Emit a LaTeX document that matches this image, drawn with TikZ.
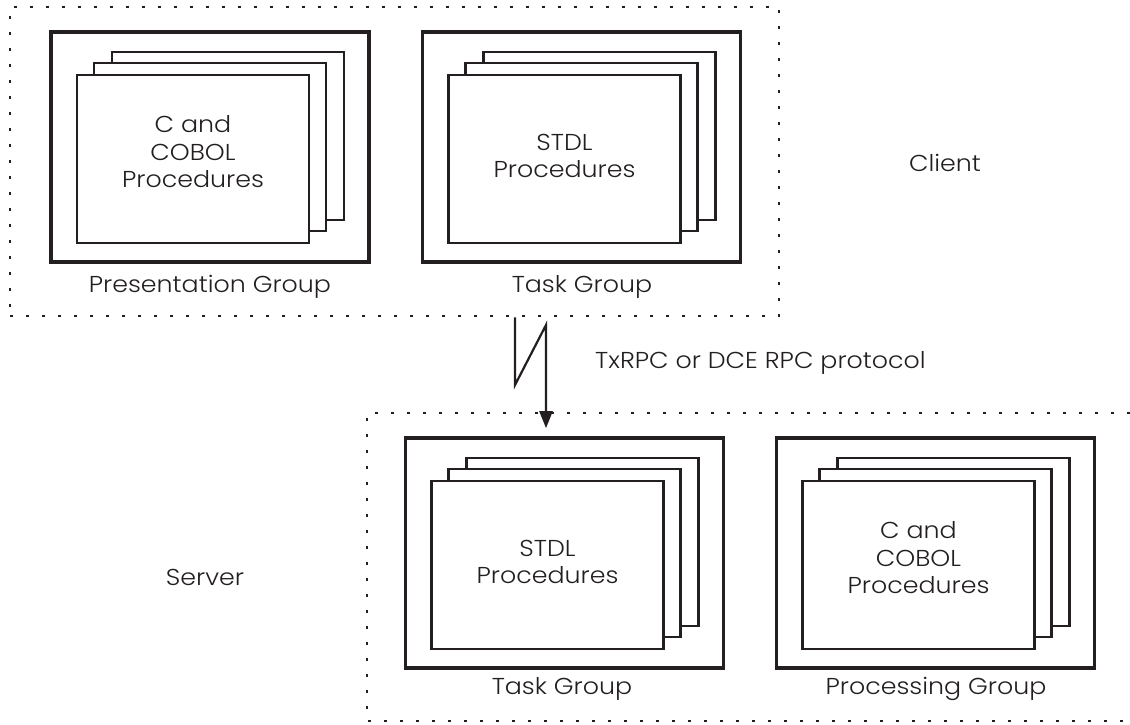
\documentclass[tikz,border=0pt]{standalone}
\usepackage{fontspec}
\setmainfont{Poppins}[UprightFont={* Light}, FakeStretch=1.1]
\usetikzlibrary{arrows.meta}
\definecolor{ink}{HTML}{231F20}
\tikzset{
  dotbox/.style={draw=ink, line width=2.8pt, dash pattern=on 2.8pt off 13.2pt},
  groupbox/.style={draw=ink, line width=3.6pt, fill=white, minimum width=318pt, minimum height=230pt, inner sep=0pt},
  card/.style={draw=ink, line width=2.2pt, fill=white, minimum width=232pt, minimum height=168pt, inner sep=0pt, align=center, text=ink, font=\fontsize{23}{27.5}\selectfont},
  lab/.style={text=ink, font=\fontsize{23}{27.5}\selectfont, inner sep=0pt},
  link/.style={draw=ink, line width=2.2pt, -{Triangle[length=17pt,width=13pt]}, line join=miter}
}
\begin{document}
\begin{tikzpicture}[x=1pt,y=-1pt]
\useasboundingbox (0,0) rectangle (1130,725);
% client region
\node[dotbox, minimum width=769pt, minimum height=309pt, inner sep=0pt] (client) at (394.5,161.5) {};
% server region (open to the right)
\coordinate (srvTR) at (1130,413);
\coordinate (srvTL) at (367,413);
\coordinate (srvBL) at (367,721);
\coordinate (srvBR) at (1130,721);
\draw[dotbox] (srvTR) -- (srvTL) -- (srvBL) -- (srvBR);

% Presentation group
\node[groupbox] (pg) at (210,147) {};
\node[card] (pg3) at (228,136) {};
\node[card] (pg2) at (210,147) {};
\node[card] (pg1) at (193,159) {};
\node[lab, align=center] (pgt) at (193,152) {C and\\COBOL\\Procedures};
\node[lab] (pgl) at (210,287) {Presentation Group};

% Client task group
\node[groupbox] (ctg) at (581.5,147) {};
\node[card] (ctg3) at (599.5,136) {};
\node[card] (ctg2) at (581.5,147) {};
\node[card] (ctg1) at (564.5,159) {};
\node[lab, align=center] (ctgt) at (564.5,156) {STDL\\Procedures};
\node[lab] (ctgl) at (582,287) {Task Group};

% Server task group
\node[groupbox] (stg) at (564.5,553) {};
\node[card] (stg3) at (582.5,542) {};
\node[card] (stg2) at (564.5,553) {};
\node[card] (stg1) at (547.5,565) {};
\node[lab, align=center] (stgt) at (547.5,562) {STDL\\Procedures};
\node[lab] (stgl) at (562,689) {Task Group};

% Processing group
\node[groupbox] (ppg) at (935.5,553) {};
\node[card] (ppg3) at (953.5,542) {};
\node[card] (ppg2) at (935.5,553) {};
\node[card] (ppg1) at (918.5,565) {};
\node[lab, align=center] (ppgt) at (918.5,558) {C and\\COBOL\\Procedures};
\node[lab] (ppgl) at (936,689) {Processing Group};

% region labels
\node[lab] (clientl) at (945,163) {Client};
\node[lab] (serverl) at (205,577) {Server};
\node[lab, anchor=west] (proto) at (595,363) {TxRPC or DCE RPC protocol};

% RPC link
\coordinate (z1) at (515,385);
\coordinate (z2) at (546,325);
\draw[link, shorten >=8pt] (515,0 |- client.south) -- (z1) -- (z2) -- (z2 |- stg.north);
\end{tikzpicture}
\end{document}
